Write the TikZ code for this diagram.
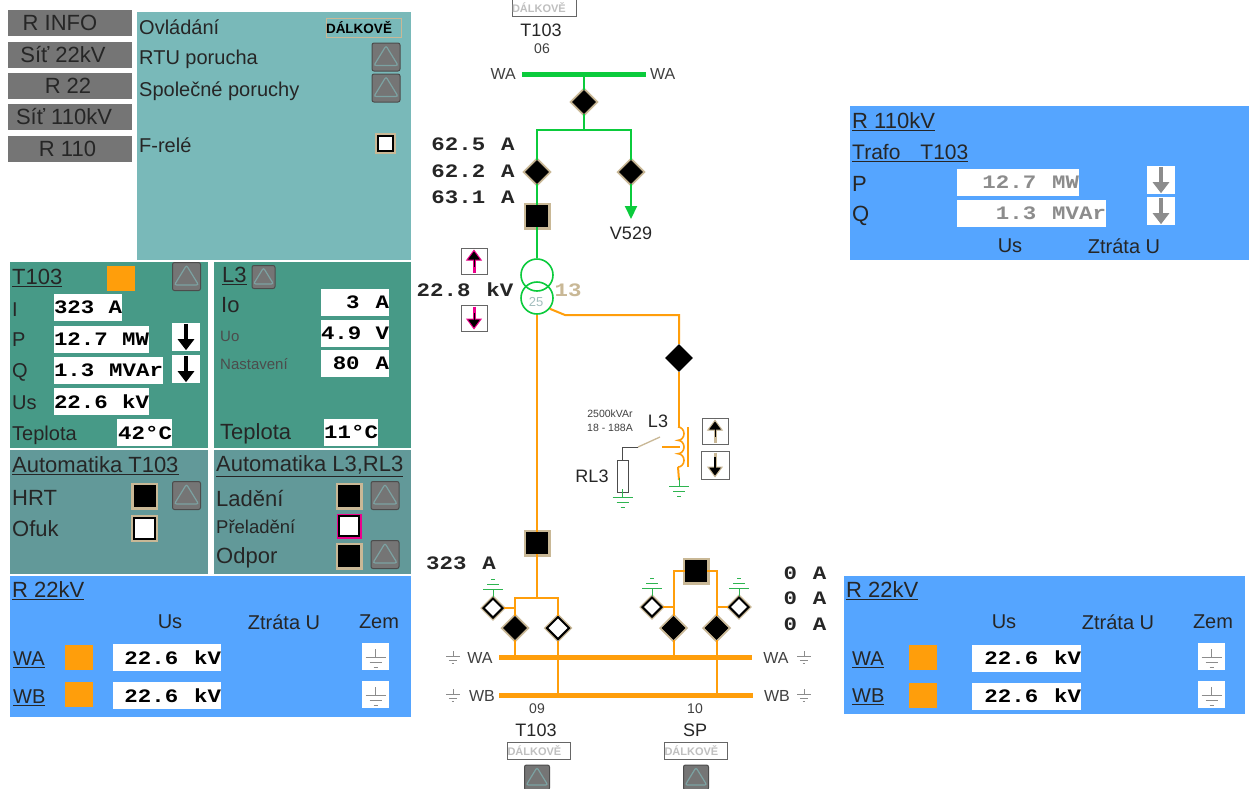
\documentclass[tikz,border=0pt]{standalone}
\usepackage{fontspec}
\setmainfont{Liberation Sans}
\newfontfamily\valfont[FakeStretch=1.18,WordSpace=1.18]{Liberation Mono}
\usetikzlibrary{arrows.meta,shapes.geometric}
\definecolor{ovlteal}{HTML}{79B9B9}
\definecolor{measteal}{HTML}{479A87}
\definecolor{autoteal}{HTML}{629999}
\definecolor{rowblue}{HTML}{55A5FF}
\definecolor{linegreen}{HTML}{0BCB3C}
\definecolor{lineorange}{HTML}{FF9E0B}
\definecolor{edgetan}{HTML}{C9B896}
\definecolor{btngray}{HTML}{757575}
\tikzset{
    panel/.style={inner sep=0, outer sep=0},
    navbtn/.style={fill=btngray, inner sep=0, minimum width=124pt, minimum height=26pt},
    navlbl/.style={inner sep=0, font=\fontsize{22}{24}\selectfont, text=black!85},
    lbl/.style={anchor=west, inner sep=0, text=black!85, font=\fontsize{20}{24}\selectfont},
    lblbig/.style={lbl, font=\fontsize{22}{26}\selectfont},
    lblsmall/.style={lbl, font=\fontsize{15}{18}\selectfont, text=black!70},
    midlbl/.style={inner sep=0, text=black!85, font=\fontsize{18}{22}\selectfont},
    collbl/.style={midlbl, font=\fontsize{20}{24}\selectfont},
    numlbl/.style={inner sep=0, text=black!75, font=\fontsize{14}{16}\selectfont},
    buslbl/.style={inner sep=0, text=black!75, font=\fontsize{16}{18}\selectfont},
    valbox/.style={fill=white, inner xsep=0, inner ysep=0, minimum height=27pt, align=flush right,
        font=\valfont\bfseries\fontsize{19}{22}\selectfont},
    vallbl/.style={inner sep=0, font=\valfont\bfseries\fontsize{19}{22}\selectfont, text=black!85},
    lamp/.style={fill=lineorange, inner sep=0, minimum width=28pt, minimum height=25pt},
    arrbtn/.style={fill=white, inner sep=0, minimum size=28pt},
    arrbox/.style={arrbtn, draw=black!60, line width=1pt, minimum size=26pt},
    arrline/.style={line width=3.5pt, -{Triangle[width=16pt,length=11pt]}, shorten >=1pt, shorten <=1pt},
    markline/.style={line width=3pt, -{Triangle[width=16pt,length=11pt,line width=1pt,fill=black]},
        shorten >=2pt, shorten <=2pt},
    alarmbtn/.style={draw=black!70, line width=1pt, fill=btngray, rounded corners=2pt,
        inner sep=0, minimum size=#1, path picture={
        \draw [ovlteal!60!gray, line width=1.2pt]
            ([shift={(0,0.4*#1)}]path picture bounding box.center)
            -- ([shift={(0.43*#1,-0.3*#1)}]path picture bounding box.center)
            -- ([shift={(-0.43*#1,-0.3*#1)}]path picture bounding box.center) -- cycle;}},
    alarmbtn/.default=28pt,
    onsq/.style={fill=black, draw=black, line width=1pt, inner sep=0, minimum size=21pt,
        preaction={draw=edgetan, line width=6pt}},
    offsq/.style={onsq, fill=white, line width=2pt},
    ondia/.style={diamond, aspect=1, fill=black, draw=black, line width=0.8pt, inner sep=0,
        minimum size=23pt, preaction={draw=edgetan, line width=4.5pt}},
    offdia/.style={ondia, fill=white, line width=2pt},
    busbar/.style={fill=lineorange, inner sep=0, minimum height=5pt},
    dalkbox/.style={draw=black!60, fill=white, inner sep=0, text width=64pt, align=left,
        minimum height=17pt, text=black!25, font=\bfseries\fontsize{11}{13}\selectfont},
    gline/.style={linegreen, line width=2pt},
    oline/.style={lineorange, line width=2pt},
    gndgreen/.style={linegreen!70!gray, line width=1pt},
    gndgray/.style={black!45, line width=1pt},
    gndsym/.pic={
        \draw (0,0) -- (0,8) (-10,8) -- (10,8) (-6,13) -- (6,13) (-2,18) -- (2,18);
    },
}

\begin{document}
\begin{tikzpicture}[x=1pt,y=-1pt]
    \useasboundingbox (0,0) rectangle (1249,788);
    \fill [white] (0,0) rectangle (1249,788);

    \node [navbtn] (navinfo) at (70,23) {};
    \node [navlbl] (navinfotext) at (60,23) {R INFO};
    \node [navbtn] (navsit22) at (70,54.5) {};
    \node [navlbl] (navsit22text) at (63,54.5) {Síť 22kV};
    \node [navbtn] (navr22) at (70,86) {};
    \node [navlbl] (navr22text) at (68,86) {R 22};
    \node [navbtn] (navsit110) at (70,117) {};
    \node [navlbl] (navsit110text) at (64,117) {Síť 110kV};
    \node [navbtn] (navr110) at (70,148.5) {};
    \node [navlbl] (navr110text) at (67.5,148.5) {R 110};

    \node [panel, fill=ovlteal, minimum width=274pt, minimum height=248pt] (pnlovl) at (274,136) {};
    \node [lbl] (ovl) at (139,27) {Ovládání};
    \node [draw=edgetan, inner sep=0, text width=75pt, align=left, minimum height=19pt,%
        font=\bfseries\fontsize{13.5}{15}\selectfont] (ovlstate) at (363.5,28) {DÁLKOVĚ};
    \node [lbl] (rtu) at (139,59) {RTU porucha};
    \node [alarmbtn] (rtualarm) at (386,57) {};
    \node [lbl] (spol) at (139,91) {Společné poruchy};
    \node [alarmbtn] (spolalarm) at (386,88) {};
    \node [lbl] (frele) at (139,145) {F-relé};
    \node [offsq, minimum size=15pt] (frelesq) at (385,143) {};

    \node [panel, fill=measteal, minimum width=198pt, minimum height=186pt] (pnlt) at (109,355) {};
    \node [lblbig] (tname) at (12,278) {\underline{T103}};
    \node [lamp] (tlamp) at (120.5,278.5) {};
    \node [alarmbtn] (talarm) at (186.5,276.5) {};
    \node [lbl] (ti) at (12,310) {I};
    \node [lbl] (tp) at (12,340) {P};
    \node [lbl] (tq) at (12,372) {Q};
    \node [lbl] (tus) at (12,403) {Us};
    \node [lbl] (ttep) at (12,435) {Teplota};
    \node [valbox, text width=68pt] (vali) at (88,307.5) {323 A};
    \node [valbox, text width=95pt] (valp) at (101.5,339.5) {12.7 MW};
    \node [valbox, text width=109pt] (valq) at (108.5,370.5) {1.3 MVAr};
    \node [valbox, text width=95pt] (valus) at (101.5,401.5) {22.6 kV};
    \node [valbox, text width=55pt] (valt) at (144.5,432.5) {42°C};
    \node [arrbtn] (pdir) at (186,337) {};
    \node [arrbtn] (qdir) at (186,369) {};
    \draw [arrline] (pdir.north) -- (pdir.south);
    \draw [arrline] (qdir.north) -- (qdir.south);

    \node [panel, fill=measteal, minimum width=197pt, minimum height=186pt] (pnll) at (312.5,355) {};
    \node [lblbig] (lname) at (222,276) {\underline{L3}};
    \node [alarmbtn=23pt] (lalarm) at (263.5,277) {};
    \node [lblbig] (lio) at (221,305) {Io};
    \node [lblsmall] (luo) at (220,336) {Uo};
    \node [lblsmall] (lnast) at (220,364) {Nastavení};
    \node [lblbig] (ltep) at (220,434) {Teplota};
    \node [valbox, text width=68pt] (valio) at (355,302.5) {3 A};
    \node [valbox, text width=68pt] (valuo) at (355,333.5) {4.9 V};
    \node [valbox, text width=68pt] (valnast) at (355,363.5) {80 A};
    \node [valbox, text width=54pt] (vallt) at (351,432) {11°C};

    \node [panel, fill=autoteal, minimum width=198pt, minimum height=124pt] (pnlat) at (109,512) {};
    \node [lblbig] (atname) at (12,466) {\underline{Automatika T103}};
    \node [lblbig] (hrt) at (12,498) {HRT};
    \node [onsq] (hrtsq) at (144.5,496) {};
    \node [alarmbtn] (hrtalarm) at (186.5,495.5) {};
    \node [lblbig] (ofuk) at (12,529) {Ofuk};
    \node [offsq] (ofuksq) at (144.5,528) {};

    \node [panel, fill=autoteal, minimum width=197pt, minimum height=124pt] (pnlal) at (312.5,512) {};
    \node [lblbig] (alname) at (216,466) {\underline{Automatika L3,RL3}};
    \node [lblbig] (lad) at (216,498) {Ladění};
    \node [onsq] (ladsq) at (349,496) {};
    \node [alarmbtn] (ladalarm) at (385,495.5) {};
    \node [lbl, font=\fontsize{18.5}{22}\selectfont] (prel) at (216,527) {Přeladění};
    \node [draw=black, fill=white, line width=2pt, inner sep=0, minimum size=20pt,%
        preaction={draw=magenta, line width=5pt}] (prelsq) at (349,526) {};
    \node [lblbig] (odp) at (216,558) {Odpor};
    \node [onsq] (odpsq) at (349,556) {};
    \node [alarmbtn] (odpalarm) at (385,554.5) {};

    \node [panel, fill=rowblue, minimum width=401pt, minimum height=141pt] (pnlrl) at (210.5,646.5) {};
    \node [lblbig] (rlname) at (12,591) {\underline{R 22kV}};
    \node [collbl] (rlus) at (170,622) {Us};
    \node [collbl] (rlzt) at (284,622) {Ztráta U};
    \node [collbl] (rlzem) at (379,622) {Zem};
    \node [lbl] (rlwa) at (13,660) {\underline{WA}};
    \node [lamp] (rlwalamp) at (79,657.5) {};
    \node [valbox, text width=108pt] (rlwaval) at (167,657.5) {22.6 kV};
    \node [arrbtn, minimum size=27pt] (rlwagnd) at (375.5,656.5) {};
    \pic [gndgray] at (375.5,649) {gndsym};
    \node [lbl] (rlwb) at (13,698) {\underline{WB}};
    \node [lamp] (rlwblamp) at (79,694.5) {};
    \node [valbox, text width=108pt] (rlwbval) at (167,695.5) {22.6 kV};
    \node [arrbtn, minimum size=27pt] (rlwbgnd) at (375.5,694.5) {};
    \pic [gndgray] at (375.5,687) {gndsym};

    \node [panel, fill=rowblue, minimum width=401pt, minimum height=138pt] (pnlrr) at (1044.5,645) {};
    \node [lblbig] (rrname) at (846,591) {\underline{R 22kV}};
    \node [collbl] (rrus) at (1004,622) {Us};
    \node [collbl] (rrzt) at (1118,622) {Ztráta U};
    \node [collbl] (rrzem) at (1213,622) {Zem};
    \node [lbl] (rrwa) at (852,660) {\underline{WA}};
    \node [lamp] (rrwalamp) at (922.5,657.5) {};
    \node [valbox, text width=109pt] (rrwaval) at (1026.5,658) {22.6 kV};
    \node [arrbtn, minimum size=27pt] (rrwagnd) at (1211.5,656.5) {};
    \pic [gndgray] at (1211.5,649) {gndsym};
    \node [lbl] (rrwb) at (852,697) {\underline{WB}};
    \node [lamp] (rrwblamp) at (922.5,695.5) {};
    \node [valbox, text width=109pt] (rrwbval) at (1026.5,696) {22.6 kV};
    \node [arrbtn, minimum size=27pt] (rrwbgnd) at (1211.5,694.5) {};
    \pic [gndgray] at (1211.5,687) {gndsym};

    \node [panel, fill=rowblue, minimum width=399pt, minimum height=154pt] (pnlht) at (1049.5,183) {};
    \node [lblbig] (htname) at (852,122) {\underline{R 110kV}};
    \node [lbl, font=\fontsize{21}{24}\selectfont] (httrafo) at (852,153) {\underline{Trafo\hspace{20pt}T103}};
    \node [lblbig] (htp) at (852,184) {P};
    \node [lblbig] (htq) at (852,216) {Q};
    \node [valbox, text width=122pt, text=black!45] (htpval) at (1018,182.5) {12.7 MW};
    \node [valbox, text width=149pt, text=black!45] (htqval) at (1031.5,213.5) {1.3 MVAr};
    \node [arrbtn] (htpdir) at (1161,180) {};
    \node [arrbtn] (htqdir) at (1161,211) {};
    \draw [arrline, black!45] (htpdir.north) -- (htpdir.south);
    \draw [arrline, black!45] (htqdir.north) -- (htqdir.south);
    \node [collbl] (htus) at (1010,246) {Us};
    \node [collbl] (htzt) at (1124,246) {Ztráta U};

    \node [dalkbox] (topstate) at (544,8) {DÁLKOVĚ};
    \node [midlbl] (topname) at (541,30) {T103};
    \node [numlbl] (topnum) at (542,49) {06};
    \node [busbar, fill=linegreen, minimum width=124pt] (busgreen) at (584,74) {};
    \node [buslbl, anchor=east] (bgwal) at (516,74) {WA};
    \node [buslbl, anchor=west] (bgwar) at (650,74) {WA};
    \node [ondia] (dtop) at (584,102) {};
    \coordinate (jtop) at (584,130);
    \node [ondia] (dleft) at (537,172) {};
    \node [ondia] (dright) at (631,172) {};
    \node [onsq] (sqtop) at (537,216) {};
    \node [midlbl] (vname) at (631,233) {V529};
    \coordinate (vend) at (631,219);
    \node [circle, draw=linegreen, line width=1.6pt, minimum size=32pt, inner sep=0] (trup) at (537,275) {};
    \node [circle, draw=linegreen, line width=1.6pt, minimum size=32pt, inner sep=0] (trlow) at (537,298) {};
    \node [inner sep=0, text=ovlteal!60!gray!70, font=\fontsize{13}{15}\selectfont] (trnum) at (536,302) {25};
    \node [vallbl, text=edgetan] (trtap) at (568,290) {13};
    \node [vallbl] (trkv) at (465,290) {22.8 kV};
    \node [arrbox] (tapup) at (474,261) {};
    \node [arrbox] (tapdn) at (474,318) {};
    \draw [markline, magenta] (tapup.south) -- (tapup.north);
    \draw [black, line width=1pt, shorten <=8pt, shorten >=8pt] (tapup.south) -- (tapup.north);
    \draw [markline, magenta] (tapdn.north) -- (tapdn.south);
    \draw [black, line width=1pt, shorten <=8pt, shorten >=8pt] (tapdn.north) -- (tapdn.south);
    \node [vallbl] (ia) at (473,144) {62.5 A};
    \node [vallbl] (ib) at (473,171) {62.2 A};
    \node [vallbl] (ic) at (473,197) {63.1 A};

    \draw [gline] (dtop.north) -- (dtop.north |- busgreen);
    \draw [gline] (dtop.south) -- (jtop);
    \draw [gline] (dleft.north) |- (jtop) -| (dright.north);
    \draw [gline] (dleft.south) -- (sqtop.north);
    \draw [gline] (sqtop.south) -- (trup.north);
    \draw [gline, -{Triangle[width=12pt,length=13pt]}] (dright.south) -- (vend);

    \node [onsq] (sqmain) at (537,543) {};
    \node [vallbl] (imain) at (461,563) {323 A};
    \coordinate (jmain) at (537,598);
    \draw [oline] (trlow.south) -- (sqmain.north);
    \draw [oline] (sqmain.south) -- (jmain);

    \coordinate (jbend) at (565,315);
    \node [diamond, aspect=1, fill=black, inner sep=0, minimum size=28pt] (dcoil) at (679,358) {};
    \coordinate (coiltop) at (678,427);
    \coordinate (coilbot) at (678,467);
    \coordinate (coilgnd) at (679,480);
    \coordinate (coiltapl) at (662,447);
    \coordinate (coiltapr) at (680,447);
    \coordinate (contl) at (638,447);
    \coordinate (contr) at (660,437);
    \coordinate (rlcorner) at (622.5,447);
    \coordinate (bartop) at (688,427);
    \coordinate (barbot) at (688,467);
    \draw [oline] (trlow.-40) -- (jbend) -| (dcoil.north);
    \draw [oline] (dcoil.south) -- (dcoil.south |- coiltop);
    \draw [oline, line width=1.6pt] (coiltop) arc [start angle=-90, end angle=90, x radius=6, y radius=6.67]
        arc [start angle=-90, end angle=90, x radius=6, y radius=6.67]
        arc [start angle=-90, end angle=90, x radius=6, y radius=6.67];
    \draw [oline] (bartop) -- (barbot);
    \draw [oline] (coiltapl) -- (coiltapr);
    \draw [oline] (coilbot) -- (coilgnd);
    \draw [edgetan, line width=1.3pt] (contl) -- (contr);
    \node [draw=black!70, fill=white, line width=1pt, inner sep=0, minimum width=11pt, minimum height=32pt] (rl) at (622.5,476) {};
    \draw [black!70, line width=1pt] (contl) -- (rlcorner) -- (rl.north);
    \pic [gndgreen] at (622.5,489) {gndsym};
    \pic [gndgreen] at (679,478) {gndsym};
    \node [midlbl] (rlname3) at (592,476) {RL3};
    \node [midlbl] (lname3) at (658,421) {L3};
    \node [numlbl, font=\fontsize{10.5}{12}\selectfont] (coilra) at (610,414) {2500kVAr};
    \node [numlbl, font=\fontsize{10.5}{12}\selectfont] (coilrb) at (610,428) {18 - 188A};
    \node [arrbox] (coilup) at (715,431) {};
    \node [arrbox, minimum size=28pt] (coildn) at (715,465) {};
    \draw [markline, edgetan] (coilup.south) -- (coilup.north);
    \draw [black, line width=1pt, shorten <=8pt, shorten >=8pt] (coilup.south) -- (coilup.north);
    \draw [markline, edgetan] (coildn.north) -- (coildn.south);
    \draw [black, line width=1.5pt, shorten <=6pt, shorten >=8pt] (coildn.north) -- (coildn.south);

    \node [busbar, minimum width=253pt] (buswa) at (625.5,657) {};
    \node [busbar, minimum width=254pt] (buswb) at (626,695) {};
    \node [ondia] (dwa1) at (515,628) {};
    \node [offdia] (dwb1) at (558,628) {};
    \node [offdia, minimum size=20pt] (de1) at (493,608) {};
    \node [onsq] (sqsp) at (696,571) {};
    \node [ondia] (dwa2) at (673.5,628) {};
    \node [ondia] (dwb2) at (716.5,628) {};
    \node [offdia, minimum size=20pt] (de2l) at (652,607) {};
    \node [offdia, minimum size=20pt] (de2r) at (739,607) {};
    \draw [oline] (dwa1.north) |- (jmain) -| (dwb1.north);
    \draw [oline] (dwa1.south) -- (dwa1.south |- buswa);
    \draw [oline] (dwb1.south) -- (dwb1.south |- buswb);
    \draw [oline] (de1.east) -- (de1.east -| dwa1);
    \draw [oline] (sqsp.west) -| (dwa2.north);
    \draw [oline] (sqsp.east) -| (dwb2.north);
    \draw [oline] (dwa2.south) -- (dwa2.south |- buswa);
    \draw [oline] (dwb2.south) -- (dwb2.south |- buswb);
    \draw [oline] (de2l.east) -- (de2l.east -| dwa2);
    \draw [oline] (de2r.west) -- (de2r.west -| dwb2);
    \pic [gndgreen, yscale=-1] at (493,597) {gndsym};
    \pic [gndgreen, yscale=-1] at (652,596) {gndsym};
    \pic [gndgreen, yscale=-1] at (739,596) {gndsym};

    \node [buslbl] (lblwal) at (480,658) {WA};
    \node [buslbl] (lblwbl) at (482,696) {WB};
    \node [buslbl] (lblwar) at (776,658) {WA};
    \node [buslbl] (lblwbr) at (777,696) {WB};
    \pic [gndgray, scale=0.7] at (453,651) {gndsym};
    \pic [gndgray, scale=0.7] at (453,689) {gndsym};
    \pic [gndgray, scale=0.7] at (804,651) {gndsym};
    \pic [gndgray, scale=0.7] at (804,689) {gndsym};

    \node [vallbl] (ie1) at (805,573) {0 A};
    \node [vallbl] (ie2) at (805,598) {0 A};
    \node [vallbl] (ie3) at (805,624) {0 A};

    \node [numlbl] (num09) at (537,709) {09};
    \node [numlbl] (num10) at (695,709) {10};
    \node [midlbl] (botname1) at (536,730) {T103};
    \node [midlbl] (botname2) at (695,730) {SP};
    \node [dalkbox, text width=63pt] (botstate1) at (539,750.5) {DÁLKOVĚ};
    \node [dalkbox, text width=63pt] (botstate2) at (696,750.5) {DÁLKOVĚ};
    \node [alarmbtn=25pt] (botalarm1) at (537,777.5) {};
    \node [alarmbtn=25pt] (botalarm2) at (696,777.5) {};
\end{tikzpicture}
\end{document}
